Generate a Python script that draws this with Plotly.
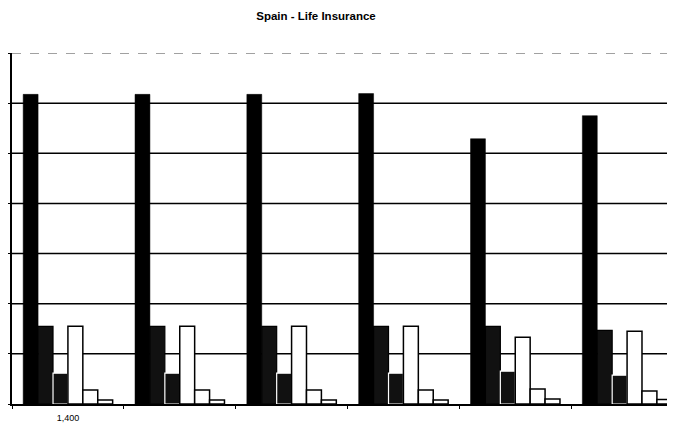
import plotly.graph_objects as go

categories = ["1,400", "g2", "g3", "g4", "g5", "g6"]
tick_labels = ["1,400", "", "", "", "", ""]

series_a = [1235, 1235, 1235, 1238, 1058, 1150]   # solid black
series_b = [310, 310, 310, 310, 310, 294]         # dark
series_c = [123, 123, 123, 123, 131, 115]         # dark, white edge
series_d = [310, 310, 310, 310, 266, 290]         # white tall
series_e = [56, 56, 56, 56, 60, 52]               # white small
series_f = [16, 16, 16, 16, 20, 18]               # white tiny

grid_values = [200, 400, 600, 800, 1000, 1200]

fig = go.Figure()
styles = [
    (series_a, "#000000", "#000000", 0.5),
    (series_b, "#111111", "#000000", 1.2),
    (series_c, "#111111", "#ffffff", 1.2),
    (series_d, "#ffffff", "#000000", 1.5),
    (series_e, "#ffffff", "#000000", 1.5),
    (series_f, "#ffffff", "#000000", 1.5),
]
for vals, fill, line, lw in styles:
    fig.add_trace(go.Bar(x=categories, y=vals, marker=dict(color=fill, line=dict(color=line, width=lw)),
                         showlegend=False))

shapes = []
for g in grid_values:
    shapes.append(dict(type="line", xref="paper", yref="y", x0=0, x1=1, y0=g, y1=g,
                       line=dict(color="#000000", width=1.5), layer="below"))
shapes.append(dict(type="line", xref="paper", yref="y", x0=0, x1=1, y0=1400, y1=1400,
                   line=dict(color="#444444", width=1, dash="dash"), layer="below"))

fig.update_layout(
    width=675, height=423,
    margin=dict(l=2, r=0, t=45, b=27),
    paper_bgcolor="white", plot_bgcolor="white",
    barmode="group", bargap=0.2, bargroupgap=0,
    title=dict(text="<b>Spain - Life Insurance</b>", x=308/675, xref="container", xanchor="center",
               y=1 - 8/423, yref="container", yanchor="middle",
               font=dict(family="Liberation Sans, Arial", size=11.5, color="#000")),
    shapes=shapes,
    xaxis=dict(type="category", range=[-0.5, 5.5], tickmode="array", tickvals=categories,
               ticktext=tick_labels, tickson="boundaries", ticks="outside", ticklen=3,
               tickcolor="#000", showline=True, linecolor="#000", linewidth=1.5,
               showgrid=False, ticklabelstandoff=4,
               tickfont=dict(family="Liberation Sans, Arial", size=9, color="#000")),
    yaxis=dict(range=[0, 1400], dtick=200, showticklabels=False, ticks="outside", ticklen=4,
               tickcolor="#000", showline=True, linecolor="#000", linewidth=1.5,
               showgrid=False, zeroline=False),
)
fig.write_html("out.html")
